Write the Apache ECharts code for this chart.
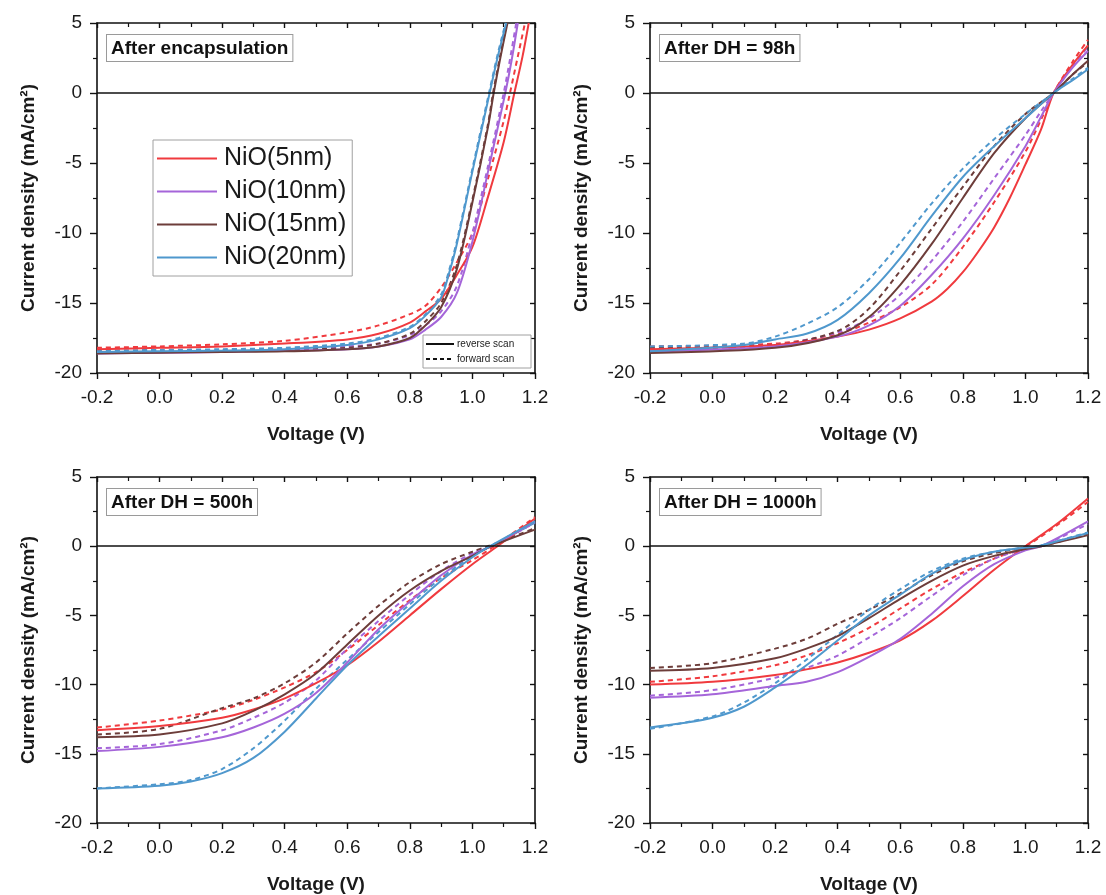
<!DOCTYPE html>
<html>
<head>
<meta charset="utf-8">
<script src="https://cdn.jsdelivr.net/npm/echarts@6/dist/echarts.min.js"></script>
<style>
html,body{margin:0;padding:0;background:#fff;}
#chart{width:1106px;height:895px;}
</style>
</head>
<body>
<div id="chart"></div>
<script>
// ---------- DATA (Voltage V, Current density mA/cm2) ----------
const SERIES_NAMES = ['NiO(5nm)', 'NiO(10nm)', 'NiO(15nm)', 'NiO(20nm)'];
const PANEL_TITLES = ['After encapsulation', 'After DH = 98h', 'After DH = 500h', 'After DH = 1000h'];
const X_TICKS = [-0.2, 0.0, 0.2, 0.4, 0.6, 0.8, 1.0, 1.2];
const Y_TICKS = [-20, -15, -10, -5, 0, 5];

// After encapsulation
const ENC_R5  = [[-0.2,-18.3],[0,-18.2],[0.2,-18.1],[0.4,-17.9],[0.6,-17.6],[0.7,-17.2],[0.8,-16.4],[0.85,-15.6],[0.9,-14.7],[0.95,-13.0],[1.0,-11.0],[1.05,-7.4],[1.1,-3.5],[1.134,0],[1.16,2.6],[1.18,5.0]];
const ENC_F5  = [[-0.2,-18.2],[0,-18.1],[0.2,-17.95],[0.4,-17.7],[0.6,-17.1],[0.7,-16.6],[0.8,-15.8],[0.85,-15.2],[0.9,-13.9],[0.95,-12.1],[1.0,-10.0],[1.05,-6.1],[1.1,-2.0],[1.12,0],[1.145,2.6],[1.168,5.0]];
const ENC_R10 = [[-0.2,-18.6],[0,-18.55],[0.2,-18.5],[0.4,-18.4],[0.6,-18.3],[0.7,-18.1],[0.8,-17.6],[0.85,-16.9],[0.9,-16.0],[0.95,-14.3],[1.0,-10.6],[1.05,-5.6],[1.105,0],[1.125,2.3],[1.145,5.0]];
const ENC_F10 = [[-0.2,-18.5],[0,-18.45],[0.2,-18.4],[0.4,-18.3],[0.6,-18.1],[0.7,-17.9],[0.8,-17.3],[0.85,-16.6],[0.9,-15.6],[0.95,-13.8],[1.0,-10.0],[1.05,-5.2],[1.1,0],[1.12,2.4],[1.14,5.0]];
const ENC_R15 = [[-0.2,-18.6],[0,-18.55],[0.2,-18.5],[0.4,-18.45],[0.6,-18.3],[0.7,-18.1],[0.8,-17.5],[0.85,-16.6],[0.9,-15.3],[0.95,-12.6],[1.0,-7.8],[1.05,-2.4],[1.068,0],[1.09,2.6],[1.112,5.0]];
const ENC_F15 = [[-0.2,-18.55],[0,-18.5],[0.2,-18.45],[0.4,-18.35],[0.6,-18.2],[0.7,-17.9],[0.8,-17.2],[0.85,-16.3],[0.9,-15.0],[0.95,-12.3],[1.0,-7.6],[1.05,-2.2],[1.066,0],[1.09,2.8],[1.11,5.0]];
const ENC_R20 = [[-0.2,-18.5],[0,-18.45],[0.2,-18.4],[0.4,-18.3],[0.6,-18.0],[0.7,-17.6],[0.8,-16.8],[0.85,-15.9],[0.9,-14.6],[0.925,-12.9],[0.95,-10.8],[1.0,-5.6],[1.055,0],[1.08,2.5],[1.108,5.0]];
const ENC_F20 = [[-0.2,-18.4],[0,-18.35],[0.2,-18.3],[0.4,-18.2],[0.6,-17.9],[0.7,-17.5],[0.8,-16.7],[0.85,-15.8],[0.9,-14.4],[0.925,-12.7],[0.95,-10.6],[1.0,-5.4],[1.053,0],[1.08,2.7],[1.106,5.0]];

// After DH = 98h
const DH98_R5  = [[-0.2,-18.3],[0.2,-18.0],[0.4,-17.4],[0.5,-16.9],[0.6,-16.1],[0.7,-14.9],[0.75,-14.0],[0.8,-12.8],[0.85,-11.3],[0.9,-9.6],[0.95,-7.5],[1.0,-5.1],[1.05,-2.6],[1.09,0],[1.15,2.0],[1.2,3.4]];
const DH98_F5  = [[-0.2,-18.1],[0.2,-17.9],[0.4,-17.2],[0.5,-16.4],[0.6,-15.3],[0.7,-13.7],[0.8,-11.0],[0.9,-7.8],[1.0,-4.2],[1.05,-1.9],[1.09,0],[1.15,2.2],[1.2,3.8]];
const DH98_R10 = [[-0.2,-18.45],[0.2,-18.1],[0.4,-17.4],[0.5,-16.6],[0.6,-15.2],[0.7,-13.0],[0.8,-10.4],[0.9,-7.3],[1.0,-3.8],[1.05,-1.7],[1.09,0],[1.15,1.8],[1.2,3.0]];
const DH98_F10 = [[-0.2,-18.3],[0.2,-18.0],[0.4,-17.1],[0.5,-16.1],[0.6,-14.4],[0.7,-12.0],[0.8,-9.2],[0.9,-6.1],[1.0,-3.0],[1.05,-1.3],[1.09,0],[1.15,1.9],[1.2,3.3]];
const DH98_R15 = [[-0.2,-18.57],[0.2,-18.2],[0.4,-17.3],[0.5,-16.0],[0.6,-13.7],[0.7,-10.8],[0.8,-7.5],[0.9,-4.3],[1.0,-1.8],[1.09,0],[1.15,1.3],[1.2,2.3]];
const DH98_F15 = [[-0.2,-18.2],[0.2,-18.0],[0.4,-17.0],[0.5,-15.4],[0.6,-12.7],[0.7,-9.7],[0.8,-6.7],[0.9,-3.8],[1.0,-1.5],[1.09,0],[1.15,1.3],[1.2,2.2]];
const DH98_R20 = [[-0.2,-18.45],[0.1,-18.0],[0.2,-17.6],[0.3,-17.2],[0.4,-16.2],[0.5,-14.3],[0.6,-11.8],[0.7,-8.8],[0.8,-6.0],[0.9,-3.8],[1.0,-1.8],[1.09,0],[1.15,0.9],[1.2,1.7]];
const DH98_F20 = [[-0.2,-18.1],[0.1,-17.9],[0.2,-17.4],[0.3,-16.5],[0.4,-15.3],[0.5,-13.3],[0.6,-10.7],[0.7,-7.9],[0.8,-5.4],[0.9,-3.3],[1.0,-1.5],[1.09,0],[1.15,1.0],[1.2,1.8]];

// After DH = 500h
const DH500_R5  = [[-0.2,-13.3],[0,-13.0],[0.2,-12.4],[0.3,-11.8],[0.4,-11.0],[0.5,-9.9],[0.6,-8.6],[0.7,-6.9],[0.8,-5.0],[0.9,-3.1],[1.0,-1.3],[1.08,0],[1.2,2.0]];
const DH500_F5  = [[-0.2,-13.1],[0,-12.6],[0.2,-11.8],[0.3,-11.1],[0.4,-10.2],[0.5,-9.1],[0.6,-7.5],[0.7,-5.7],[0.8,-3.9],[0.9,-2.3],[1.0,-1.0],[1.07,0],[1.2,2.1]];
const DH500_R10 = [[-0.2,-14.8],[0,-14.5],[0.2,-13.8],[0.3,-13.1],[0.4,-12.1],[0.5,-10.6],[0.6,-8.4],[0.7,-6.0],[0.8,-4.0],[0.9,-2.1],[1.0,-0.6],[1.06,0],[1.2,1.8]];
const DH500_F10 = [[-0.2,-14.6],[0,-14.3],[0.2,-13.3],[0.3,-12.4],[0.4,-11.3],[0.5,-9.7],[0.6,-7.4],[0.7,-5.4],[0.8,-3.5],[0.9,-1.8],[1.0,-0.5],[1.06,0],[1.2,1.7]];
const DH500_R15 = [[-0.2,-13.8],[0,-13.6],[0.2,-12.8],[0.3,-11.9],[0.4,-10.7],[0.5,-9.2],[0.6,-7.1],[0.7,-5.0],[0.8,-3.2],[0.9,-1.8],[1.0,-0.7],[1.06,0],[1.2,1.2]];
const DH500_F15 = [[-0.2,-13.6],[0,-13.2],[0.2,-11.7],[0.3,-11.0],[0.4,-9.9],[0.5,-8.4],[0.6,-6.3],[0.7,-4.3],[0.8,-2.6],[0.9,-1.3],[1.0,-0.4],[1.05,0],[1.2,1.3]];
const DH500_R20 = [[-0.2,-17.5],[0,-17.3],[0.1,-17.0],[0.2,-16.4],[0.3,-15.3],[0.4,-13.4],[0.5,-11.0],[0.6,-8.6],[0.7,-6.5],[0.8,-4.5],[0.9,-2.5],[1.0,-0.8],[1.056,0],[1.2,1.8]];
const DH500_F20 = [[-0.2,-17.5],[0,-17.2],[0.1,-16.9],[0.2,-16.1],[0.3,-14.6],[0.4,-12.6],[0.5,-10.3],[0.6,-8.2],[0.7,-6.2],[0.8,-4.2],[0.9,-2.3],[1.0,-0.7],[1.06,0],[1.2,1.7]];

// After DH = 1000h
const DH1000_R5  = [[-0.2,-10.0],[0,-9.8],[0.2,-9.3],[0.3,-8.9],[0.4,-8.4],[0.5,-7.7],[0.6,-6.8],[0.7,-5.4],[0.8,-3.6],[0.9,-1.7],[1.0,0],[1.1,1.6],[1.2,3.45]];
const DH1000_F5  = [[-0.2,-9.8],[0,-9.4],[0.2,-8.6],[0.3,-7.9],[0.4,-7.0],[0.5,-5.9],[0.6,-4.5],[0.7,-3.1],[0.8,-1.9],[0.9,-0.9],[1.0,0],[1.1,1.5],[1.2,3.2]];
const DH1000_R10 = [[-0.2,-10.95],[0,-10.7],[0.2,-10.1],[0.3,-9.8],[0.4,-9.1],[0.5,-8.0],[0.6,-6.7],[0.7,-4.9],[0.8,-2.9],[0.9,-1.3],[1.0,-0.3],[1.05,0],[1.2,1.8]];
const DH1000_F10 = [[-0.2,-10.8],[0,-10.4],[0.2,-9.5],[0.3,-8.8],[0.4,-7.9],[0.5,-6.6],[0.6,-5.2],[0.7,-3.6],[0.8,-2.1],[0.9,-0.9],[1.0,-0.2],[1.05,0],[1.2,1.6]];
const DH1000_R15 = [[-0.2,-9.0],[0,-8.8],[0.2,-8.1],[0.3,-7.4],[0.4,-6.5],[0.5,-5.2],[0.6,-3.8],[0.7,-2.5],[0.8,-1.4],[0.9,-0.7],[1.0,-0.2],[1.05,0],[1.2,0.8]];
const DH1000_F15 = [[-0.2,-8.8],[0,-8.45],[0.2,-7.4],[0.3,-6.7],[0.4,-5.6],[0.5,-4.6],[0.6,-3.4],[0.7,-2.1],[0.8,-1.1],[0.9,-0.5],[1.0,-0.1],[1.05,0],[1.2,0.9]];
const DH1000_R20 = [[-0.2,-13.1],[-0.1,-12.8],[0,-12.4],[0.1,-11.6],[0.2,-10.2],[0.3,-8.6],[0.4,-6.8],[0.5,-5.0],[0.6,-3.5],[0.7,-2.0],[0.8,-1.0],[0.9,-0.4],[1.0,-0.1],[1.04,0],[1.2,0.95]];
const DH1000_F20 = [[-0.2,-13.2],[0,-12.3],[0.1,-11.3],[0.2,-9.9],[0.3,-8.2],[0.4,-6.4],[0.5,-4.6],[0.6,-3.1],[0.7,-1.8],[0.8,-0.9],[0.9,-0.4],[1.0,-0.1],[1.04,0],[1.2,1.0]];

const PANEL_REVERSE = [
  [ENC_R5, ENC_R10, ENC_R15, ENC_R20],
  [DH98_R5, DH98_R10, DH98_R15, DH98_R20],
  [DH500_R5, DH500_R10, DH500_R15, DH500_R20],
  [DH1000_R5, DH1000_R10, DH1000_R15, DH1000_R20]
];
const PANEL_FORWARD = [
  [ENC_F5, ENC_F10, ENC_F15, ENC_F20],
  [DH98_F5, DH98_F10, DH98_F15, DH98_F20],
  [DH500_F5, DH500_F10, DH500_F15, DH500_F20],
  [DH1000_F5, DH1000_F10, DH1000_F15, DH1000_F20]
];

// ---------- STYLE / LAYOUT ----------
const COLORS = ['#f03a3e', '#a565d9', '#6d3d3a', '#4f98cd'];
const GRID_POS = [[97, 23], [650, 23], [97, 477], [650, 477]];
const GW = 438, GH = 350;
const FONT = "'Liberation Sans', Arial, sans-serif";
const TXT = '#1a1a1a';

const chart = echarts.init(document.getElementById('chart'), null, {renderer: 'canvas'});

const grid = [], xAxis = [], yAxis = [], series = [], graphic = [];

GRID_POS.forEach((p, i) => {
  grid.push({left: p[0], top: p[1], width: GW, height: GH, containLabel: false});
  const axLine = {show: true, onZero: false, lineStyle: {color: '#111', width: 1.6}};
  xAxis.push({
    type: 'value', gridIndex: i, position: 'bottom', min: -0.2, max: 1.2, interval: 0.2,
    axisLine: axLine,
    axisTick: {show: true, inside: false, length: 6, lineStyle: {color: '#111', width: 1.4}},
    minorTick: {show: true, splitNumber: 2, length: 4, lineStyle: {color: '#111', width: 1.2}},
    axisLabel: {show: true, fontFamily: FONT, fontSize: 19, color: TXT, margin: 15,
      formatter: v => { const t = X_TICKS.find(k => Math.abs(k - v) < 1e-6); return t === undefined ? '' : t.toFixed(1); }},
    splitLine: {show: false},
    name: 'Voltage (V)', nameLocation: 'middle', nameGap: 52,
    nameTextStyle: {fontFamily: FONT, fontSize: 19, fontWeight: 'bold', color: TXT}
  });
  xAxis.push({
    type: 'value', gridIndex: i, position: 'top', min: -0.2, max: 1.2, interval: 0.2,
    axisLine: axLine,
    axisTick: {show: true, inside: true, length: 5, lineStyle: {color: '#111', width: 1.4}},
    minorTick: {show: true, splitNumber: 2, length: 4, lineStyle: {color: '#111', width: 1.2}},
    axisLabel: {show: false}, splitLine: {show: false}
  });
  yAxis.push({
    type: 'value', gridIndex: i, position: 'left', min: -20, max: 5, interval: 5,
    axisLine: axLine,
    axisTick: {show: true, inside: false, length: 7, lineStyle: {color: '#111', width: 1.4}},
    minorTick: {show: true, splitNumber: 2, length: 4, lineStyle: {color: '#111', width: 1.2}},
    axisLabel: {show: true, fontFamily: FONT, fontSize: 19, color: TXT, margin: 15,
      formatter: v => { const t = Y_TICKS.find(k => Math.abs(k - v) < 1e-6); return t === undefined ? '' : String(t); }},
    splitLine: {show: false},
    name: 'Current density (mA/cm²)', nameLocation: 'middle', nameGap: 59, nameRotate: 90,
    nameTextStyle: {fontFamily: FONT, fontSize: 19, fontWeight: 'bold', color: TXT}
  });
  yAxis.push({
    type: 'value', gridIndex: i, position: 'right', min: -20, max: 5, interval: 5,
    axisLine: axLine,
    axisTick: {show: true, inside: true, length: 5, lineStyle: {color: '#111', width: 1.4}},
    minorTick: {show: true, splitNumber: 2, length: 4, lineStyle: {color: '#111', width: 1.2}},
    axisLabel: {show: false}, splitLine: {show: false}
  });

  const xi = 2 * i, yi = 2 * i;
  PANEL_FORWARD[i].forEach((d, k) => {
    series.push({
      type: 'line', name: SERIES_NAMES[k] + ' forward', xAxisIndex: xi, yAxisIndex: yi,
      data: d, showSymbol: false, symbol: 'none', smooth: 0.3, clip: true,
      lineStyle: {color: COLORS[k], width: 2, type: [5, 4]}, itemStyle: {color: COLORS[k]},
      z: 3, silent: true
    });
  });
  PANEL_REVERSE[i].forEach((d, k) => {
    const s = {
      type: 'line', name: SERIES_NAMES[k], xAxisIndex: xi, yAxisIndex: yi,
      data: d, showSymbol: false, symbol: 'none', smooth: 0.3, clip: true,
      lineStyle: {color: COLORS[k], width: 2, type: 'solid'}, itemStyle: {color: COLORS[k]},
      z: 4, silent: true
    };
    if (k === 0) {
      s.markLine = {
        silent: true, symbol: ['none', 'none'], label: {show: false},
        lineStyle: {color: '#111', width: 1.6, type: 'solid'},
        data: [{yAxis: 0}]
      };
    }
    series.push(s);
  });

  graphic.push({
    type: 'text', left: p[0] + 9, top: p[1] + 11, z: 10,
    style: {
      text: PANEL_TITLES[i], font: "bold 19px 'Liberation Sans', Arial, sans-serif", fill: '#111',
      backgroundColor: '#fff', borderColor: '#9a9a9a', borderWidth: 1, padding: [4, 4, 3, 4]
    }
  });
});

// scan legend (top-left panel)
const SL = {x: 423, y: 335, w: 108, h: 33};
graphic.push(
  {type: 'rect', shape: {x: SL.x, y: SL.y, width: SL.w, height: SL.h}, style: {fill: '#fff', stroke: '#a0a0a0', lineWidth: 1}, z: 10},
  {type: 'line', shape: {x1: SL.x + 3, y1: SL.y + 9, x2: SL.x + 31, y2: SL.y + 9}, style: {stroke: '#111', lineWidth: 2}, z: 11},
  {type: 'text', x: SL.x + 34, y: SL.y + 9, style: {text: 'reverse scan', font: "10px 'Liberation Sans', Arial, sans-serif", fill: '#222', verticalAlign: 'middle'}, z: 11},
  {type: 'line', shape: {x1: SL.x + 3, y1: SL.y + 24, x2: SL.x + 31, y2: SL.y + 24}, style: {stroke: '#111', lineWidth: 2, lineDash: [4, 3]}, z: 11},
  {type: 'text', x: SL.x + 34, y: SL.y + 24, style: {text: 'forward scan', font: "10px 'Liberation Sans', Arial, sans-serif", fill: '#222', verticalAlign: 'middle'}, z: 11}
);

chart.setOption({
  animation: false,
  backgroundColor: '#fff',
  grid, xAxis, yAxis, series, graphic,
  legend: {
    show: true, orient: 'vertical', left: 153, top: 140,
    data: SERIES_NAMES.map(n => ({name: n, icon: 'path://M0,0 L60,0 L60,2 L0,2 Z'})),
    itemWidth: 60, itemHeight: 2, itemGap: 8,
    padding: [6, 6, 6, 4],
    borderColor: '#a0a0a0', borderWidth: 1, backgroundColor: '#fff',
    textStyle: {fontFamily: FONT, fontSize: 25, color: TXT, lineHeight: 25, padding: [0, 0, 0, 2]},
    selectedMode: false
  }
});
</script>
</body>
</html>
